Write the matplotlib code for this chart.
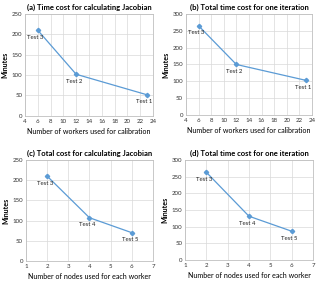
import matplotlib.pyplot as plt

plt.rcParams['font.family'] = ['Lato', 'DejaVu Sans']

workers = [6, 12, 23]
jac_workers = [210, 102, 52]
iter_workers = [265, 150, 103]
labels_workers = ['Test 3', 'Test 2', 'Test 1']

nodes = [2, 4, 6]
jac_nodes = [210, 107, 70]
iter_nodes = [263, 131, 86]
labels_nodes = ['Test 3', 'Test 4', 'Test 5']

LINE = '#5b9bd5'
GRID = '#d9d9d9'

fig = plt.figure(figsize=(3.2, 2.84), dpi=100)

panels = [
    ([0.078, 0.592, 0.400, 0.359], workers, jac_workers, labels_workers,
     '(a) Time cost for calculating Jacobian', 'Number of workers used for calibration',
     (4, 24), range(4, 25, 2), (0, 250), range(0, 251, 50)),
    ([0.581, 0.595, 0.394, 0.356], workers, iter_workers, labels_workers,
     '(b) Total time cost for one iteration', 'Number of workers used for calibration',
     (4, 24), range(4, 25, 2), (0, 300), range(0, 301, 50)),
    ([0.081, 0.081, 0.397, 0.356], nodes, jac_nodes, labels_nodes,
     '(c) Total cost for calculating Jacobian', 'Number of nodes used for each worker',
     (1, 7), range(1, 8), (0, 250), range(0, 251, 50)),
    ([0.578, 0.085, 0.400, 0.352], nodes, iter_nodes, labels_nodes,
     '(d) Total time cost for one iteration', 'Number of nodes used for each worker',
     (1, 7), range(1, 8), (0, 300), range(0, 301, 50)),
]

for rect, x, y, labs, title, xlabel, xlim, xt, ylim, yt in panels:
    ax = fig.add_axes(rect)
    ax.plot(x, y, color=LINE, lw=0.9, marker='D', ms=2.2, zorder=3)
    for xi, yi, lab in zip(x, y, labs):
        ax.annotate(lab, (xi, yi), xytext=(-1.5, -5), textcoords='offset points',
                    ha='center', va='center', fontsize=4.3, color='#222222')
    ax.set_xlim(*xlim)
    ax.set_ylim(*ylim)
    ax.set_xticks(list(xt))
    ax.set_yticks(list(yt))
    ax.grid(True, color=GRID, lw=0.5)
    ax.set_axisbelow(True)
    for s in ax.spines.values():
        s.set_color('#bfbfbf')
        s.set_linewidth(0.6)
    ax.tick_params(labelsize=4.4, length=0, pad=2, colors='#333333')
    ax.set_title(title, fontsize=5.5, fontweight='bold', pad=3)
    ax.set_xlabel(xlabel, fontsize=5.1, labelpad=3)
    ax.set_ylabel('Minutes', fontsize=5.1, fontweight='bold', labelpad=2)

fig.savefig('out.png', dpi=100)
